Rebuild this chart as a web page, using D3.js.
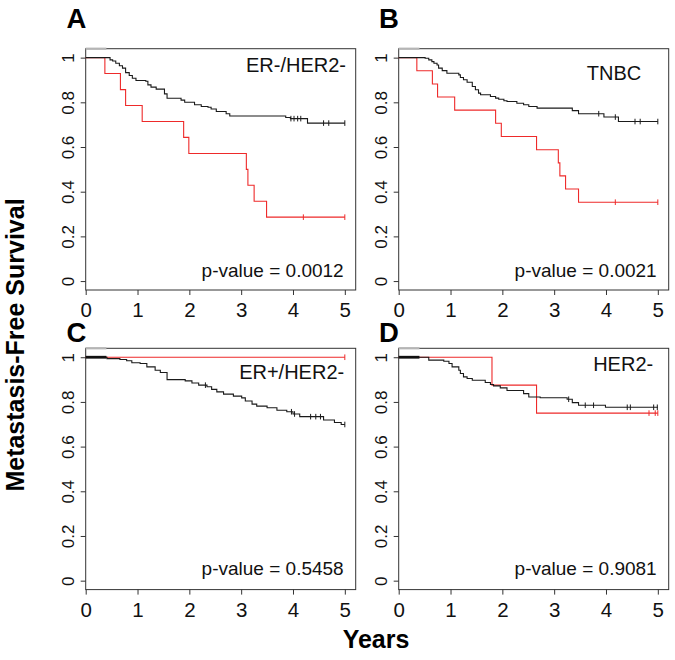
<!DOCTYPE html>
<html>
<head>
<meta charset="utf-8">
<script src="https://cdn.jsdelivr.net/npm/d3@7"></script>
<style>
  html, body { margin: 0; padding: 0; background: #fff; }
  svg { display: block; font-family: "Liberation Sans", Arial, Helvetica, sans-serif; }
</style>
</head>
<body>
<svg id="chart" width="675" height="660"></svg>
<script>
// ---------------- DATA ----------------
const panelIds = ["A", "B", "C", "D"];
const groupLabels = ["ER-/HER2-", "TNBC", "ER+/HER2-", "HER2-"];
const pValueLabels = ["p-value = 0.0012", "p-value = 0.0021", "p-value = 0.5458", "p-value = 0.9081"];
const xTickValues = [0, 1, 2, 3, 4, 5];
const yTickValues = [0, 0.2, 0.4, 0.6, 0.8, 1];
const yTickLabels = ["0", "0.2", "0.4", "0.6", "0.8", "1"];
const followUpEnd = 5;

// Panel A (ER-/HER2-)
const aBlackTimes = [0, 0.47, 0.52, 0.58, 0.65, 0.71, 0.77, 0.84, 0.90, 0.97, 1.16, 1.20, 1.26, 1.36, 1.52, 1.57, 1.84, 1.91, 2.10, 2.23, 2.36, 2.42, 2.52, 2.71, 2.78, 3.86, 3.95, 4.28];
const aBlackSurv  = [1, 0.99, 0.985, 0.975, 0.964, 0.953, 0.933, 0.92, 0.908, 0.898, 0.894, 0.878, 0.868, 0.859, 0.838, 0.818, 0.81, 0.80, 0.789, 0.781, 0.778, 0.77, 0.759, 0.749, 0.739, 0.732, 0.727, 0.707];
const aBlackCensor = [3.96, 4.02, 4.09, 4.15, 4.59, 4.69, 5.0];
const aRedTimes = [0, 0.37, 0.67, 0.77, 1.09, 1.89, 1.99, 3.10, 3.13, 3.25, 3.49];
const aRedSurv  = [1, 0.929, 0.857, 0.786, 0.714, 0.643, 0.571, 0.5, 0.429, 0.357, 0.286];
const aRedCensor = [4.2, 5.0];

// Panel B (TNBC)
const bBlackTimes = [0, 0.51, 0.58, 0.64, 0.68, 0.74, 0.77, 0.84, 0.93, 1.16, 1.19, 1.25, 1.32, 1.42, 1.48, 1.54, 1.58, 1.77, 1.87, 1.93, 2.03, 2.09, 2.28, 2.41, 2.51, 2.67, 3.35, 3.47, 3.96, 4.24];
const bBlackSurv  = [1, 0.997, 0.99, 0.982, 0.975, 0.967, 0.953, 0.942, 0.930, 0.923, 0.911, 0.901, 0.890, 0.871, 0.856, 0.841, 0.834, 0.826, 0.819, 0.814, 0.807, 0.804, 0.796, 0.789, 0.781, 0.774, 0.763, 0.749, 0.734, 0.714];
const bBlackCensor = [3.86, 4.18, 4.56, 4.66, 5.0];
const bRedTimes = [0, 0.35, 0.65, 0.75, 1.08, 1.87, 1.98, 2.66, 3.08, 3.11, 3.22, 3.47];
const bRedSurv  = [1, 0.941, 0.882, 0.824, 0.765, 0.706, 0.647, 0.588, 0.529, 0.471, 0.412, 0.353];
const bRedCensor = [4.18, 5.0];

// Panel C (ER+/HER2-)
const cBlackTimes = [0, 0.41, 0.66, 0.79, 0.89, 1.05, 1.18, 1.34, 1.44, 1.57, 1.92, 2.05, 2.18, 2.34, 2.43, 2.53, 2.66, 2.85, 3.01, 3.08, 3.21, 3.30, 3.50, 3.69, 3.88, 4.0, 4.13, 4.59, 4.80, 4.93];
const cBlackSurv  = [1, 0.994, 0.99, 0.984, 0.975, 0.972, 0.957, 0.942, 0.932, 0.90, 0.894, 0.885, 0.875, 0.868, 0.856, 0.845, 0.835, 0.826, 0.818, 0.804, 0.79, 0.781, 0.774, 0.763, 0.756, 0.746, 0.734, 0.719, 0.708, 0.699];
const cBlackCensor = [2.31, 3.97, 4.03, 4.34, 4.44, 4.53, 5.0];
const cRedTimes = [0];
const cRedSurv  = [1];
const cRedCensor = [5.0];

// Panel D (HER2-)
const dBlackTimes = [0, 0.58, 0.87, 0.97, 1.03, 1.16, 1.19, 1.25, 1.32, 1.42, 1.67, 1.77, 1.83, 1.96, 2.09, 2.41, 2.51, 2.73, 3.25, 3.35, 3.47, 3.99];
const dBlackSurv  = [1, 0.987, 0.982, 0.972, 0.957, 0.942, 0.927, 0.912, 0.905, 0.897, 0.887, 0.878, 0.872, 0.863, 0.851, 0.837, 0.822, 0.819, 0.812, 0.797, 0.785, 0.776];
const dBlackCensor = [3.28, 3.60, 3.76, 4.41, 4.47, 4.92, 4.99];
const dRedTimes = [0, 1.80, 2.66];
const dRedSurv  = [1, 0.875, 0.75];
const dRedCensor = [4.83, 4.95, 5.0];

// dense early censoring at survival 1 (start, end) — drawn as a heavy segment
const earlyCensorRange = [null, null, [0, 0.4], [0, 0.4]];
// light gray overlap mark on top frame (start, end) in years
const topFrameMark = [0, 0.4];

// ---------------- LAYOUT / STYLE ----------------
const W = 675, H = 660;
const boxW = 270, boxH = 241.3;
const layout = [
  { left: 85.7,  top: 48.7,  letterX: 66.5, letterY: 27.5,  labelDX: -9.7,  labelDY: 23,   pDX: -12, pDY: -13 },
  { left: 398.7, top: 48.7,  letterX: 379,  letterY: 27.5,  labelDX: -27.5, labelDY: 31.3, pDX: -12, pDY: -13.5 },
  { left: 85.7,  top: 348.3, letterX: 66.5, letterY: 342,   labelDX: -11.5, labelDY: 31,   pDX: -12, pDY: -14.5 },
  { left: 398.7, top: 348.3, letterX: 379,  letterY: 342,   labelDX: -15.5, labelDY: 22.7, pDX: -12, pDY: -14.5 }
];
const RED = "#ee2a2a", BLACK = "#1a1a1a", FRAME = "#333";

const curves = [
  { black: [aBlackTimes, aBlackSurv, aBlackCensor], red: [aRedTimes, aRedSurv, aRedCensor] },
  { black: [bBlackTimes, bBlackSurv, bBlackCensor], red: [bRedTimes, bRedSurv, bRedCensor] },
  { black: [cBlackTimes, cBlackSurv, cBlackCensor], red: [cRedTimes, cRedSurv, cRedCensor] },
  { black: [dBlackTimes, dBlackSurv, dBlackCensor], red: [dRedTimes, dRedSurv, dRedCensor] }
];

const svg = d3.select("#chart");

function survAt(times, surv, t) {
  let s = surv[0];
  for (let i = 0; i < times.length; i++) if (times[i] <= t) s = surv[i];
  return s;
}

panelIds.forEach((id, i) => {
  const L = layout[i];
  const x = d3.scaleLinear().domain([0, 5.21]).range([L.left, L.left + boxW]);
  const y = d3.scaleLinear().domain([-0.04, 1.04]).range([L.top + boxH, L.top]);
  const g = svg.append("g");

  // frame
  g.append("rect")
    .attr("x", L.left).attr("y", L.top)
    .attr("width", boxW).attr("height", boxH)
    .attr("fill", "none").attr("stroke", FRAME).attr("stroke-width", 1);

  g.append("line")
    .attr("x1", x(topFrameMark[0])).attr("x2", x(topFrameMark[1]))
    .attr("y1", L.top).attr("y2", L.top)
    .attr("stroke", "#b5b5b5").attr("stroke-width", 2.2);

  // x axis
  const xAxis = d3.axisBottom(x).tickValues(xTickValues).tickSize(5).tickSizeOuter(0).tickFormat(d3.format("d"));
  const gx = g.append("g").attr("transform", `translate(0,${L.top + boxH})`).call(xAxis);
  gx.select(".domain").remove();
  gx.selectAll(".tick line").attr("stroke", FRAME);
  gx.selectAll(".tick text")
    .attr("y", 27).attr("dy", 0)
    .attr("font-size", 20.5).attr("fill", "#111")
    .attr("font-family", "Liberation Sans, Arial, sans-serif");

  // y axis
  const yAxis = d3.axisLeft(y).tickValues(yTickValues).tickSize(5).tickSizeOuter(0)
    .tickFormat((d, k) => yTickLabels[k]);
  const gy = g.append("g").attr("transform", `translate(${L.left},0)`).call(yAxis);
  gy.select(".domain").remove();
  gy.selectAll(".tick line").attr("stroke", FRAME);
  gy.selectAll(".tick text")
    .attr("x", 0).attr("y", 0).attr("dy", 0)
    .attr("text-anchor", "middle")
    .attr("transform", "translate(-11.5,0) rotate(-90)")
    .attr("font-size", 17).attr("fill", "#111")
    .attr("font-family", "Liberation Sans, Arial, sans-serif");

  // curves: red first, black on top
  const line = d3.line().x(d => x(d[0])).y(d => y(d[1])).curve(d3.curveStepAfter);
  [["red", RED], ["black", BLACK]].forEach(([key, col]) => {
    const [times, surv, censor] = curves[i][key];
    const pts = times.map((t, k) => [t, surv[k]]);
    pts.push([followUpEnd, surv[surv.length - 1]]);
    g.append("path").attr("d", line(pts))
      .attr("fill", "none").attr("stroke", col).attr("stroke-width", 1.1);
    g.selectAll(null).data(censor).enter().append("line")
      .attr("x1", t => x(t)).attr("x2", t => x(t))
      .attr("y1", t => y(survAt(times, surv, t)) - 2.8)
      .attr("y2", t => y(survAt(times, surv, t)) + 2.8)
      .attr("stroke", col).attr("stroke-width", 1);
    if (key === "black" && earlyCensorRange[i]) {
      const r = earlyCensorRange[i];
      g.append("line")
        .attr("x1", x(r[0])).attr("x2", x(r[1]))
        .attr("y1", y(1)).attr("y2", y(1))
        .attr("stroke", "#111").attr("stroke-width", 2.8);
    }
  });

  // group label
  g.append("text")
    .attr("x", L.left + boxW + L.labelDX).attr("y", L.top + L.labelDY)
    .attr("text-anchor", "end").attr("font-size", 20).attr("fill", "#111")
    .text(groupLabels[i]);

  // p-value
  g.append("text")
    .attr("x", L.left + boxW + L.pDX).attr("y", L.top + boxH + L.pDY)
    .attr("text-anchor", "end").attr("font-size", 19).attr("fill", "#111")
    .text(pValueLabels[i]);

  // panel letter
  g.append("text")
    .attr("x", L.letterX).attr("y", L.letterY)
    .attr("font-size", 27.5).attr("font-weight", "bold").attr("fill", "#000")
    .text(id);
});

// axis titles
svg.append("text")
  .attr("transform", "translate(24,345) rotate(-90)")
  .attr("text-anchor", "middle").attr("font-size", 25).attr("font-weight", "bold").attr("fill", "#000")
  .text("Metastasis-Free Survival");

svg.append("text")
  .attr("x", 376).attr("y", 648)
  .attr("text-anchor", "middle").attr("font-size", 25).attr("font-weight", "bold").attr("fill", "#000")
  .text("Years");
</script>
</body>
</html>
